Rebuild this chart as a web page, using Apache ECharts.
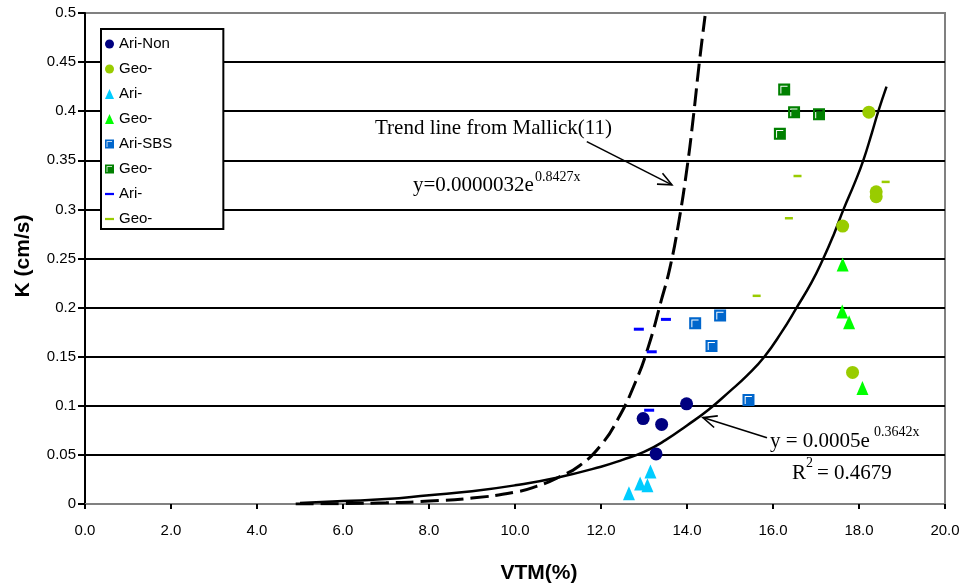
<!DOCTYPE html>
<html>
<head>
<meta charset="utf-8">
<script src="https://cdn.jsdelivr.net/npm/echarts@6/dist/echarts.min.js"></script>
<style>
  html, body { margin: 0; padding: 0; background: #fff; }
  #chart { width: 967px; height: 586px; }
</style>
</head>
<body>
<div id="chart"></div>
<script>
// Permeability K (cm/s) against VTM (%) for the mixes, with two exponential trend lines.
const xTicks = { min: 0, max: 20, step: 2 };
const yTicks = { min: 0, max: 0.5, step: 0.05 };

// [VTM %, K cm/s]
const ariNon   = [[12.98, 0.087], [13.41, 0.081], [13.99, 0.102], [13.28, 0.051]];
const geoNon   = [[18.23, 0.399], [18.40, 0.318], [18.40, 0.313], [17.62, 0.283], [17.85, 0.134]];
const ariTri   = [[12.65, 0.011], [12.91, 0.021], [13.08, 0.019], [13.15, 0.033]];
const geoTri   = [[17.62, 0.244], [17.61, 0.196], [17.77, 0.185], [18.08, 0.118]];
const ariSBS   = [[14.19, 0.184], [14.77, 0.192], [14.57, 0.161], [15.43, 0.106]];
const geoSBS   = [[16.26, 0.422], [16.49, 0.399], [17.07, 0.397], [16.16, 0.377]];
const ariDash  = [[12.88, 0.178], [13.51, 0.188], [13.18, 0.155], [13.12, 0.0955]];
const geoDash  = [[16.57, 0.334], [16.37, 0.291], [18.62, 0.328], [15.62, 0.212]];

// trend curves as drawn
const mallickCurve = [[4.9, 0], [6, 0.0004], [7, 0.0012], [8, 0.003], [9, 0.006], [10, 0.012],
  [10.5, 0.018], [11, 0.027], [11.5, 0.039], [12, 0.060], [12.4, 0.087], [12.8, 0.124],
  [13.1, 0.160], [13.4, 0.207], [13.6, 0.240], [13.8, 0.285], [14.0, 0.342], [14.15, 0.395],
  [14.28, 0.447], [14.42, 0.497]];
const fitCurve = [[5, 0.001], [6, 0.003], [7, 0.005], [8, 0.009], [9, 0.013], [10, 0.019],
  [11, 0.027], [12, 0.038], [12.5, 0.045], [13, 0.053], [13.5, 0.065], [14, 0.08], [14.5, 0.096],
  [15, 0.115], [15.4, 0.131], [15.8, 0.15], [16.2, 0.175], [16.55, 0.2], [16.9, 0.226],
  [17.17, 0.25], [17.4, 0.273], [17.64, 0.30], [17.9, 0.327], [18.1, 0.35], [18.3, 0.378],
  [18.45, 0.40], [18.64, 0.425]];

// legend labels (several repeat, so series ids carry a suffix after '|')
const seriesNames = ['Ari-Non', 'Geo-|1', 'Ari-|1', 'Geo-|2', 'Ari-SBS', 'Geo-|3', 'Ari-|2', 'Geo-|4'];

// annotation texts
const mallickLabel = 'Trend line from Mallick(11)';
const mallickEq = 'y=0.0000032e';
const mallickExp = '0.8427x';
const fitEq = 'y = 0.0005e';
const fitExp = '0.3642x';
const fitR = 'R';
const fitRExp = '2';
const fitRVal = '= 0.4679';

const SQUARE = 'path://M0 0H12V12H0ZM2.2 2.2V10H3.2V3.2H9.4V2.2Z';
const DASH = 'path://M0 0H8V2H0Z';

const SANS = '"Liberation Sans", Arial, sans-serif';
const SERIF = '"Liberation Serif", "Times New Roman", serif';

const chart = echarts.init(document.getElementById('chart'), null, { renderer: 'canvas' });

function scatter(name, data, symbol, size, color) {
  return {
    name, type: 'scatter', data, symbol, symbolSize: size,
    itemStyle: { color, opacity: 1 }, z: 5, silent: true
  };
}

const option = {
  animation: false,
  backgroundColor: '#fff',
  grid: {
    left: 85, right: 22, top: 13, bottom: 82,
    show: true, borderColor: '#808080', borderWidth: 2, backgroundColor: 'transparent'
  },
  xAxis: {
    type: 'value', min: xTicks.min, max: xTicks.max, interval: xTicks.step,
    axisLine: { onZero: false, lineStyle: { color: '#808080', width: 2 } },
    axisTick: { show: true, length: 5, lineStyle: { color: '#000', width: 2 } },
    axisLabel: { formatter: v => v.toFixed(1), fontSize: 15, color: '#000', fontFamily: SANS, margin: 19 },
    splitLine: { show: false }
  },
  yAxis: {
    type: 'value', min: yTicks.min, max: yTicks.max, interval: yTicks.step,
    axisLine: { show: true, lineStyle: { color: '#000', width: 2 } },
    axisTick: { show: true, length: 7, lineStyle: { color: '#000', width: 2 } },
    axisLabel: { formatter: v => String(+v.toFixed(2)), fontSize: 15, color: '#000', fontFamily: SANS, margin: 9 },
    splitLine: { show: true, showMinLine: false, showMaxLine: false, lineStyle: { color: '#000', width: 2 } }
  },
  legend: {
    orient: 'vertical', left: 101, top: 29,
    padding: [7, 51, 2, 4], itemGap: 9, itemWidth: 9, itemHeight: 10,
    borderColor: '#000', borderWidth: 2, backgroundColor: '#fff',
    textStyle: { fontSize: 15, fontFamily: SANS, color: '#000', lineHeight: 16 },
    formatter: n => n.split('|')[0],
    selectedMode: false,
    data: [
      { name: seriesNames[0], icon: 'circle' },
      { name: seriesNames[1], icon: 'circle' },
      { name: seriesNames[2], icon: 'triangle' },
      { name: seriesNames[3], icon: 'triangle' },
      { name: seriesNames[4], icon: SQUARE },
      { name: seriesNames[5], icon: SQUARE },
      { name: seriesNames[6], icon: DASH },
      { name: seriesNames[7], icon: DASH }
    ]
  },
  series: [
    {
      name: 'mallick', type: 'line', data: mallickCurve, showSymbol: false, smooth: 0.5,
      lineStyle: { color: '#000', width: 3, type: [18, 7] }, z: 3, silent: true
    },
    {
      name: 'fit', type: 'line', data: fitCurve, showSymbol: false, smooth: 0.5,
      lineStyle: { color: '#000', width: 2.5 }, z: 3, silent: true
    },
    scatter(seriesNames[0], ariNon, 'circle', 13, '#000080'),
    scatter(seriesNames[1], geoNon, 'circle', 13, '#99CC00'),
    scatter(seriesNames[2], ariTri, 'triangle', [12, 14], '#00CCFF'),
    scatter(seriesNames[3], geoTri, 'triangle', [12, 14], '#00FF00'),
    scatter(seriesNames[4], ariSBS, SQUARE, [12, 12], '#0066CC'),
    scatter(seriesNames[5], geoSBS, SQUARE, [12, 12], '#008000'),
    scatter(seriesNames[6], ariDash, 'rect', [10, 3], '#0000FF'),
    scatter(seriesNames[7], geoDash, 'rect', [8, 2.5], '#99CC00')
  ]
};

chart.setOption(option);

// arrows: tail and tip given in data space
function px(p) { return chart.convertToPixel({ gridIndex: 0 }, p); }
function arrow(tail, tip) {
  const a = px(tail), b = px(tip);
  const ang = Math.atan2(a[1] - b[1], a[0] - b[0]);
  const len = 15, spread = 0.42;
  const h1 = [b[0] + len * Math.cos(ang + spread), b[1] + len * Math.sin(ang + spread)];
  const h2 = [b[0] + len * Math.cos(ang - spread), b[1] + len * Math.sin(ang - spread)];
  const st = { stroke: '#000', lineWidth: 1.6, fill: null };
  return [
    { type: 'polyline', shape: { points: [a, b] }, style: st, z: 20 },
    { type: 'polyline', shape: { points: [h1, b, h2] }, style: st, z: 20 }
  ];
}
function txt(text, x, y, size, opts) {
  return Object.assign({
    type: 'text', x, y, z: 20,
    style: { text, font: size + 'px ' + SERIF, fill: '#000', align: 'left', verticalAlign: 'top' }
  }, opts || {});
}

chart.setOption({
  graphic: [
    ...arrow([11.67, 0.369], [13.65, 0.325]),
    ...arrow([15.86, 0.0675], [14.37, 0.088]),
    txt(mallickLabel, 375, 118, 21),
    txt(mallickEq, 413, 175, 21),
    txt(mallickExp, 535, 170, 14),
    txt(fitEq, 770, 431, 21),
    txt(fitExp, 874, 425, 14),
    txt(fitR, 792, 463, 21),
    txt(fitRExp, 806, 456, 14),
    txt(fitRVal, 817, 463, 21),
    {
      type: 'text', x: 23, y: 256, rotation: Math.PI / 2, z: 20,
      style: { text: 'K (cm/s)', font: 'bold 21px ' + SANS, fill: '#000', align: 'center', verticalAlign: 'middle' }
    },
    {
      type: 'text', x: 539, y: 573, z: 20,
      style: { text: 'VTM(%)', font: 'bold 21px ' + SANS, fill: '#000', align: 'center', verticalAlign: 'middle' }
    }
  ]
});
</script>
</body>
</html>
